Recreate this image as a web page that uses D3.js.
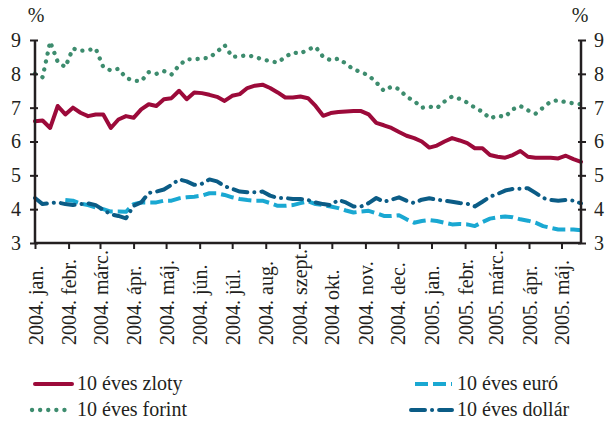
<!DOCTYPE html>
<html>
<head>
<meta charset="utf-8">
<script src="https://cdn.jsdelivr.net/npm/d3@7"></script>
<style>
  body { margin: 0; background: #fff; }
  svg { display: block; }
  svg text { font-family: "Liberation Serif", "Times New Roman", serif; }
  .axis path, .axis line { stroke: #231f20; }
  .axis text { fill: #231f20; font-size: 20px; font-family: "Liberation Serif", "Times New Roman", serif; }
  .legend text { fill: #231f20; font-size: 20px; }
</style>
</head>
<body>
<svg></svg>
<script>
var margin = { top: 40, right: 24, bottom: 180, left: 35 },
    width = 581 - margin.left,
    height = 243 - margin.top;

// weekly observations, first week of Jan 2004 to mid May 2005
var startDate = new Date(2004, 0, 1),
    endDate = new Date(2005, 4, 19);
var weeks = d3.timeDay.range(startDate, d3.timeDay.offset(endDate, 1), 7);

var monthLabels = ["2004. jan.", "2004. febr.", "2004. márc.", "2004. ápr.", "2004. máj.",
    "2004. jún.", "2004. júl.", "2004. aug.", "2004. szept.", "2004 okt.", "2004. nov.",
    "2004. dec.", "2005. jan.", "2005. febr.", "2005. márc.", "2005. ápr.", "2005. máj."];
var yTicks = [3, 4, 5, 6, 7, 8, 9];

var zloty = [6.6, 6.62, 6.4, 7.05, 6.8, 7.0, 6.85, 6.75, 6.8, 6.8, 6.4, 6.65, 6.75, 6.7, 6.95, 7.1, 7.05, 7.25,
    7.28, 7.5, 7.25, 7.45, 7.43, 7.38, 7.32, 7.2, 7.35, 7.4, 7.58, 7.65, 7.68, 7.58, 7.45, 7.3, 7.3, 7.33,
    7.28, 7.05, 6.76, 6.84, 6.87, 6.89, 6.9, 6.9, 6.8, 6.55, 6.48, 6.4, 6.28, 6.17, 6.1, 6.0, 5.82, 5.88,
    6.0, 6.1, 6.03, 5.95, 5.8, 5.8, 5.6, 5.55, 5.52, 5.6, 5.72, 5.55, 5.52, 5.52, 5.52, 5.5, 5.58, 5.48, 5.4];
var forint = [8.0, 7.9, 8.95, 8.35, 8.2, 8.75, 8.68, 8.7, 8.75, 8.2, 8.1, 8.15, 7.88, 7.8, 7.78, 8.05, 8.0, 8.08,
    7.98, 8.25, 8.43, 8.43, 8.45, 8.48, 8.65, 8.85, 8.5, 8.52, 8.55, 8.5, 8.42, 8.38, 8.33, 8.5, 8.63, 8.6,
    8.72, 8.8, 8.5, 8.4, 8.45, 8.3, 8.13, 8.05, 7.95, 7.75, 7.5, 7.62, 7.55, 7.32, 7.2, 7.0, 7.03, 6.99,
    7.18, 7.33, 7.26, 7.15, 7.0, 6.88, 6.68, 6.76, 6.73, 6.95, 7.05, 6.92, 6.82, 7.0, 7.18, 7.22, 7.16, 7.13, 7.1];
var euro = [null, null, null, null, 4.27, 4.25, 4.17, 4.12, 4.05, 4.0, 3.93, 3.93, 3.92, 4.15, 4.2, 4.2, 4.2, 4.25,
    4.25, 4.32, 4.35, 4.37, 4.4, 4.47, 4.47, 4.42, 4.35, 4.3, 4.27, 4.25, 4.25, 4.18, 4.1, 4.1, 4.12, 4.18,
    4.23, 4.15, 4.12, 4.08, 4.03, 3.96, 3.9, 3.93, 3.95, 3.88, 3.8, 3.8, 3.82, 3.7, 3.6, 3.65, 3.68, 3.65,
    3.6, 3.55, 3.56, 3.55, 3.5, 3.62, 3.72, 3.76, 3.78, 3.76, 3.7, 3.66, 3.6, 3.5, 3.45, 3.4, 3.4, 3.4, 3.38];
var dollar = [4.33, 4.15, 4.18, 4.2, 4.15, 4.12, 4.15, 4.17, 4.12, 3.98, 3.85, 3.8, 3.73, 4.1, 4.2, 4.48, 4.52, 4.58,
    4.72, 4.88, 4.82, 4.72, 4.75, 4.88, 4.82, 4.68, 4.6, 4.52, 4.5, 4.5, 4.52, 4.4, 4.33, 4.33, 4.3, 4.3,
    4.27, 4.2, 4.15, 4.12, 4.27, 4.2, 4.08, 4.08, 4.18, 4.33, 4.22, 4.28, 4.35, 4.25, 4.18, 4.28, 4.32, 4.28,
    4.25, 4.22, 4.18, 4.16, 4.08, 4.22, 4.37, 4.45, 4.55, 4.6, 4.6, 4.62, 4.48, 4.33, 4.27, 4.25, 4.27, 4.25, 4.17];

var series = [
    { name: "10 éves zloty", values: zloty, color: "#9c0a3a", dash: null, cap: "round", w: 4 },
    { name: "10 éves euró", values: euro, color: "#1aa8d2", dash: "13,5", cap: "butt", w: 4 },
    { name: "10 éves forint", values: forint, color: "#3d8c6e", dash: "0.1,8", cap: "round", w: 4.3 },
    { name: "10 éves dollár", values: dollar, color: "#0b5c86", dash: "14,7,0.1,7", cap: "round", w: 4 }
];

var x = d3.scaleTime()
    .domain([startDate, endDate])
    .range([0, width]);
var y = d3.scaleLinear()
    .domain([3, 9])
    .range([height, 0]);

var svg = d3.select("svg")
    .attr("width", 605)
    .attr("height", 423)
    .append("g")
    .attr("transform", "translate(" + margin.left + "," + margin.top + ")");

// lines first, axes on top
var line = d3.line()
    .defined(function(d) { return d.v != null; })
    .x(function(d) { return x(d.t); })
    .y(function(d) { return y(d.v); });

[series[2], series[0], series[1], series[3]].forEach(function(s) {
    var pts = weeks.map(function(t, i) { return { t: t, v: s.values[i] }; });
    svg.append("path")
        .datum(pts)
        .attr("fill", "none")
        .attr("stroke", s.color)
        .attr("stroke-width", s.w)
        .attr("stroke-linecap", s.cap)
        .attr("stroke-linejoin", "round")
        .attr("stroke-dasharray", s.dash)
        .attr("d", line);
});

var yLeft = svg.append("g")
    .attr("class", "axis")
    .call(d3.axisLeft(y).tickValues(yTicks).tickSize(5).tickPadding(9).tickFormat(d3.format("d")));
yLeft.select(".domain").attr("stroke-width", 2.5).attr("d", "M0," + height + "V0");
yLeft.selectAll(".tick line").attr("x2", -5).attr("x1", 3).attr("stroke-width", 2);

var yRight = svg.append("g")
    .attr("class", "axis")
    .attr("transform", "translate(" + width + ",0)")
    .call(d3.axisRight(y).tickValues(yTicks).tickSize(5).tickPadding(8).tickFormat(d3.format("d")));
yRight.select(".domain").attr("stroke-width", 2.5).attr("d", "M0," + height + "V0");
yRight.selectAll(".tick line").attr("x2", 5).attr("x1", -3).attr("stroke-width", 2);

var months = d3.timeMonth.range(startDate, new Date(2005, 5, 1));
var xAxis = svg.append("g")
    .attr("class", "axis")
    .attr("transform", "translate(0," + height + ")")
    .call(d3.axisBottom(x).tickValues(months).tickSize(6).tickFormat(function(d, i) { return monthLabels[i]; }));
xAxis.select(".domain").attr("stroke-width", 2.5).attr("d", "M0,0H" + width);
xAxis.selectAll(".tick line").attr("stroke-width", 2);
// rotated labels read bottom to top, starting at y=345
xAxis.selectAll(".tick text")
    .attr("transform", "rotate(-90)")
    .attr("text-anchor", "start")
    .attr("x", -102)
    .attr("y", 0)
    .attr("dy", "0.35em");

svg.append("text")
    .attr("x", 1)
    .attr("y", -18)
    .attr("text-anchor", "middle")
    .style("font-size", "20px")
    .attr("fill", "#231f20")
    .text("%");
svg.append("text")
    .attr("x", width - 1)
    .attr("y", -18)
    .attr("text-anchor", "middle")
    .style("font-size", "20px")
    .attr("fill", "#231f20")
    .text("%");

// legend, two columns
var legendPos = [[35, 384], [415, 384], [32, 410], [411, 410]];
var legend = d3.select("svg").append("g").attr("class", "legend");
series.forEach(function(s, i) {
    var p = legendPos[i];
    legend.append("line")
        .attr("x1", p[0]).attr("x2", 72 + (i % 2) * 380)
        .attr("y1", p[1]).attr("y2", p[1])
        .attr("stroke", s.color)
        .attr("stroke-width", s.w)
        .attr("stroke-linecap", s.cap)
        .attr("stroke-dasharray", s.dash);
    legend.append("text")
        .attr("x", 77 + (i % 2) * 380)
        .attr("y", p[1])
        .attr("dy", "0.32em")
        .text(s.name);
});
</script>
</body>
</html>
